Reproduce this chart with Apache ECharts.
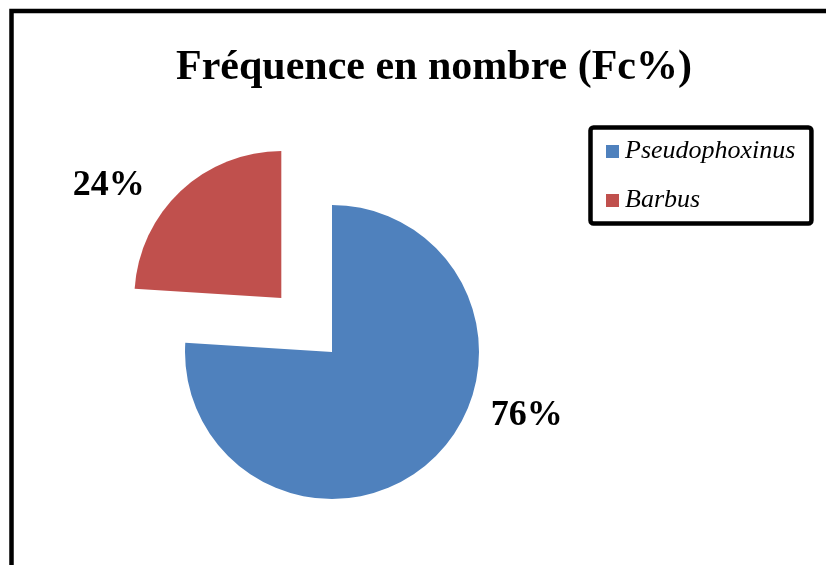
<!DOCTYPE html>
<html>
<head>
<meta charset="utf-8">
<script src="https://cdn.jsdelivr.net/npm/echarts@6/dist/echarts.min.js"></script>
<style>html,body{margin:0;padding:0;background:#fff;}#c{width:826px;height:565px;}</style>
</head>
<body>
<div id="c"></div>
<script>
const titleText = 'Fréquence en nombre (Fc%)';
const categories = ['Pseudophoxinus', 'Barbus'];
const values = [76, 24];
const colors = ['#4F81BD', '#C0504D'];
const labelOffsets = [[53, -43], [-31, -5]];

const chart = echarts.init(document.getElementById('c'), null, {renderer: 'canvas'});
const serif = '"Liberation Serif", "Times New Roman", serif';
chart.setOption({
  animation: false,
  backgroundColor: '#fff',
  title: {
    text: titleText,
    left: 176, top: 47, padding: 0,
    textStyle: {fontFamily: serif, fontWeight: 'bold', fontSize: 42, color: '#000', lineHeight: 42}
  },
  legend: {
    orient: 'vertical',
    left: 590.5, top: 127.5,
    padding: [11, 16, 10, 15.5],
    itemWidth: 13, itemHeight: 13, itemGap: 23,
    icon: 'rect',
    borderColor: '#000', borderWidth: 4.5, borderRadius: 3,
    selectedMode: false,
    data: categories,
    textStyle: {fontFamily: serif, fontStyle: 'italic', fontSize: 26, color: '#000', lineHeight: 26, padding: [0, 0, 0, 1]}
  },
  graphic: [{
    type: 'rect', silent: true, z: -1,
    shape: {x: 11.5, y: 11, width: 1000, height: 800},
    style: {fill: 'none', stroke: '#000', lineWidth: 4.5}
  }],
  series: [{
    type: 'pie',
    center: [332, 352],
    radius: 147,
    startAngle: 90,
    clockwise: true,
    selectedMode: 'single',
    selectedOffset: 74,
    avoidLabelOverlap: false,
    emphasis: {disabled: true},
    labelLine: {show: false, length: 0, length2: 0},
    label: {
      show: true, position: 'outside',
      formatter: '{d}%',
      fontFamily: serif, fontWeight: 'bold', fontSize: 36, color: '#000'
    },
    data: categories.map((n, i) => ({
      name: n, value: values[i], selected: i === 1,
      itemStyle: {color: colors[i]},
      label: {offset: labelOffsets[i]},
      select: {label: {offset: labelOffsets[i]}}
    }))
  }]
});
</script>
</body>
</html>
